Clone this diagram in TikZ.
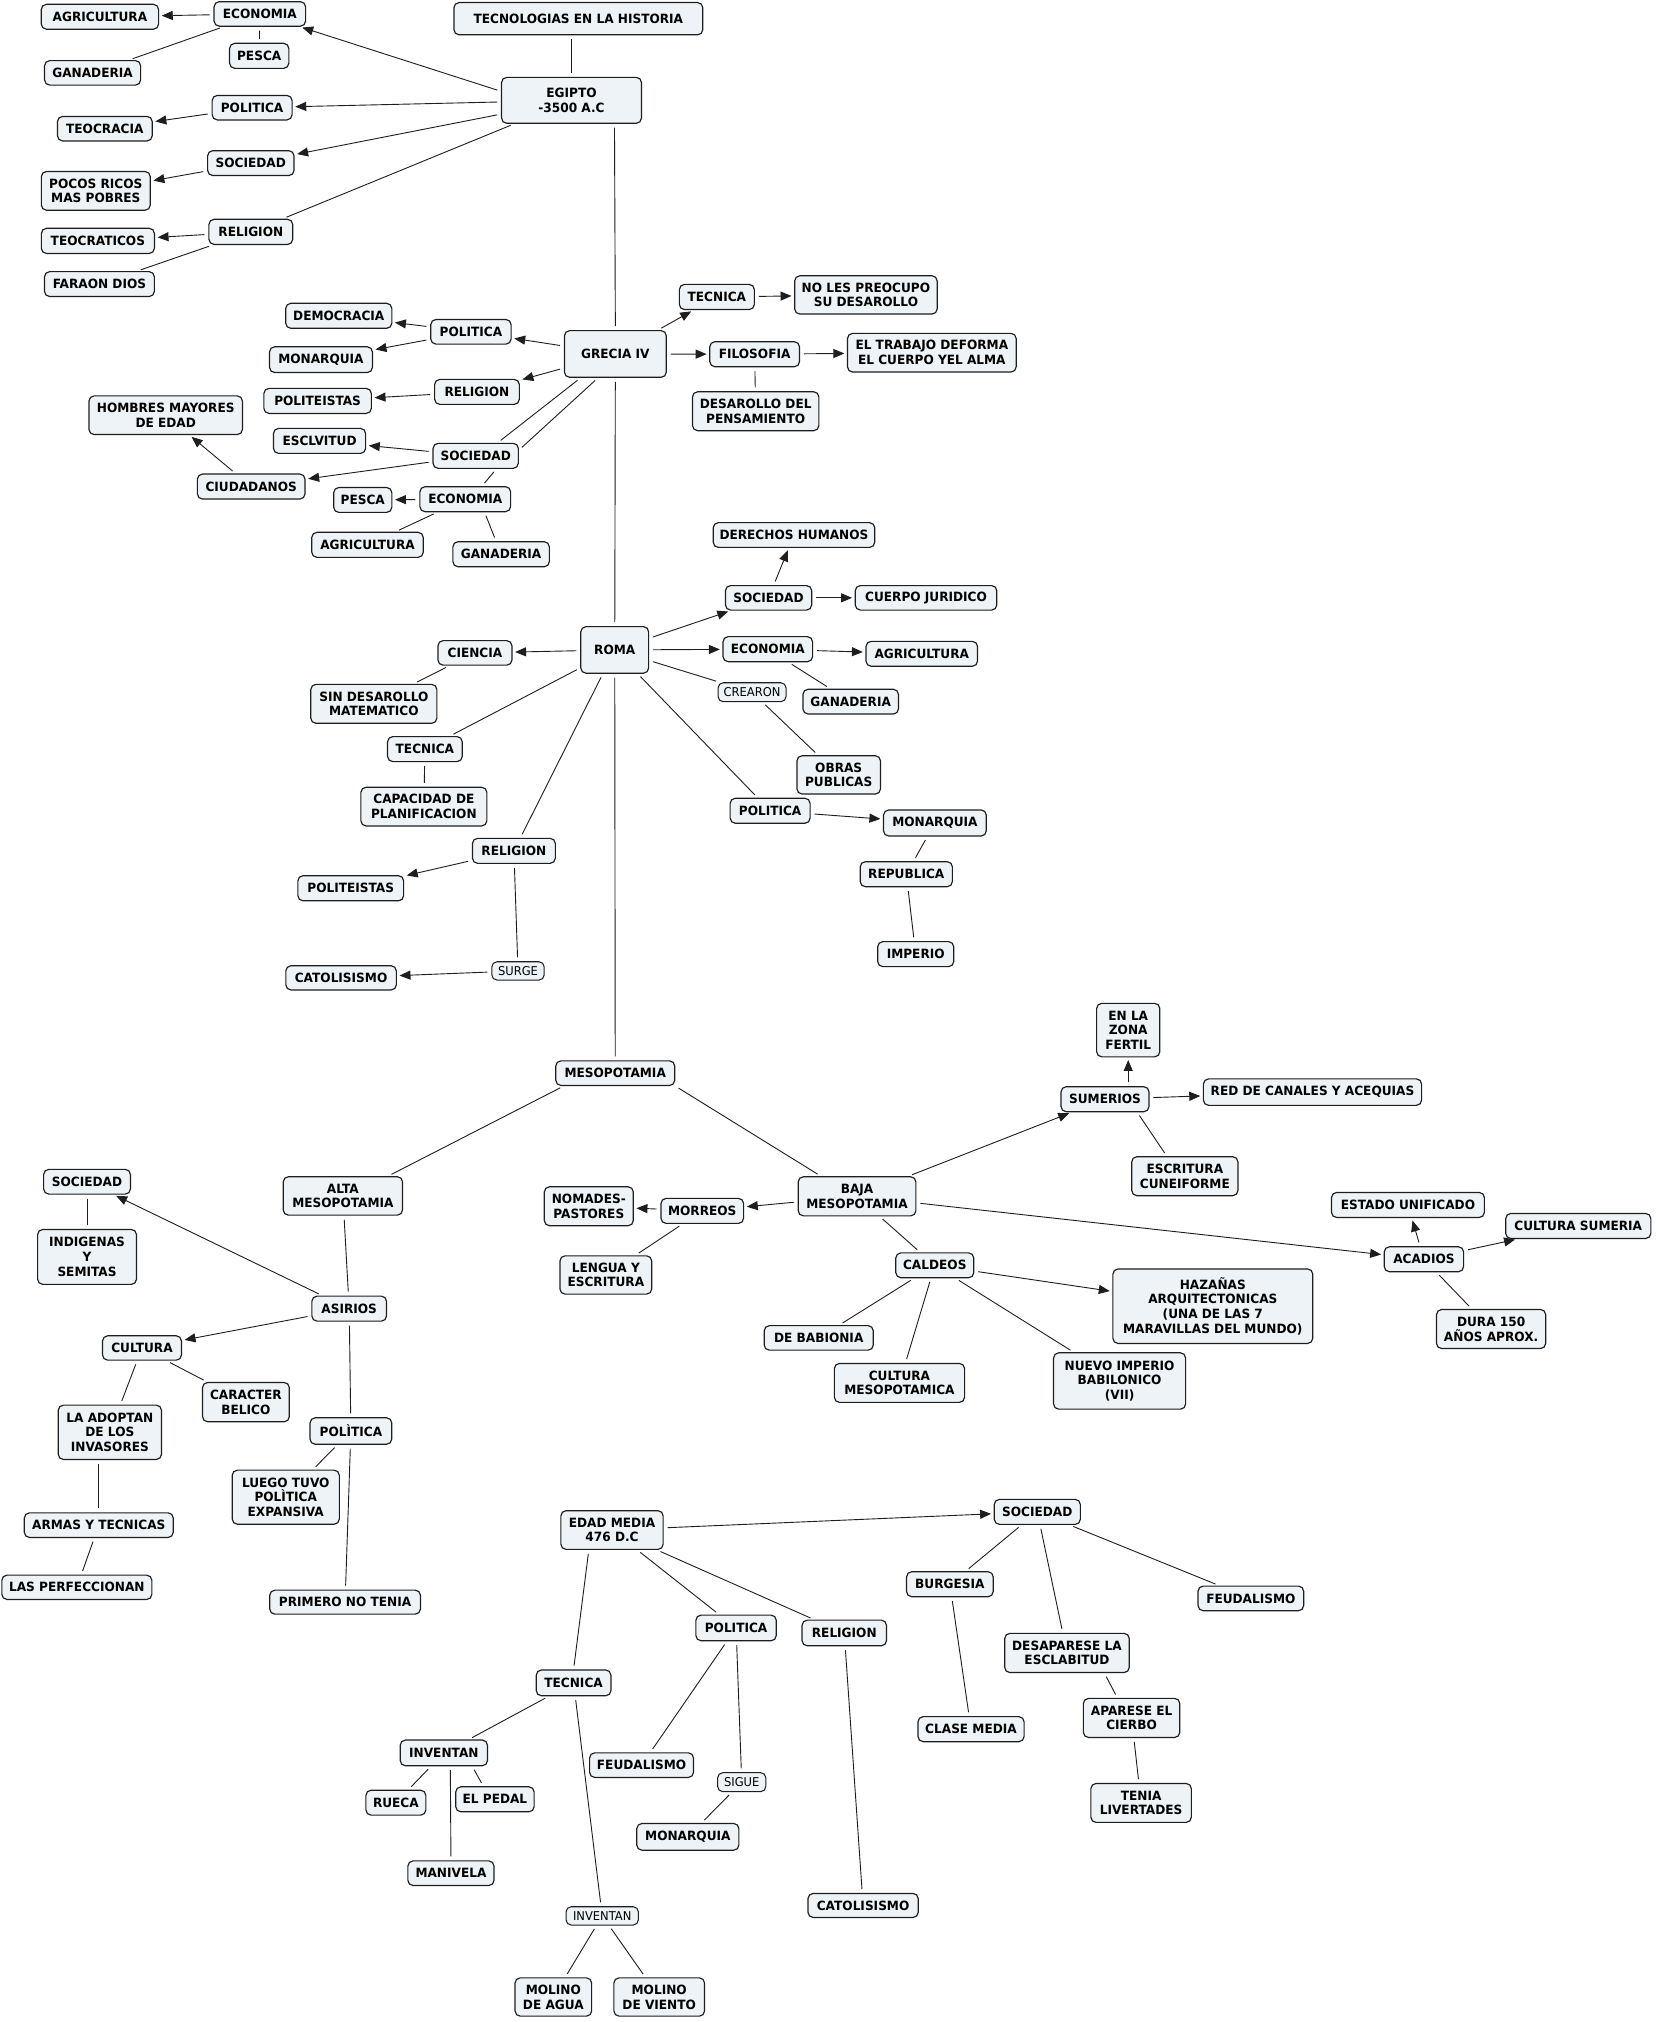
\documentclass[tikz,border=0pt]{standalone}
\usepackage{fontspec}
\setmainfont{DejaVu Sans}[FakeStretch=0.95]
\usetikzlibrary{arrows.meta}
\pgfdeclarelayer{bglayer}
\pgfdeclarelayer{edgelayer}
\pgfsetlayers{bglayer,edgelayer,main}
\definecolor{boxfill}{RGB}{237,243,246}
\definecolor{edgecol}{RGB}{30,30,30}
\tikzset{
  box/.style={draw=edgecol, line width=0.9pt, fill=boxfill, rounded corners=4pt, inner sep=0pt, align=center, font=\bfseries\fontsize{9.9}{11.4}\selectfont},
  lblbox/.style={box, line width=0.8pt, font=\fontsize{9.4}{11}\selectfont},
  con/.style={draw=edgecol, line width=0.7pt, shorten <=3pt, shorten >=3pt},
  arr/.style={con, -{Triangle[length=8.5pt,width=7pt]}, shorten >=2pt},
}
\newcommand\mynode[6]{\node[box, minimum width=#4pt, minimum height=#5pt] (#1) at (#2,#3) {#6};}
\newcommand\mylbl[6]{\node[lblbox, minimum width=#4pt, minimum height=#5pt] (#1) at (#2,#3) {#6};}
\begin{document}
\begin{tikzpicture}[x=1pt,y=-1pt]
\useasboundingbox (0,0) rectangle (1285,1568);
\begin{pgfonlayer}{bglayer}
\fill[white] (0,0) rectangle (1285,1568);
\end{pgfonlayer}
% ---------------- EGIPTO ----------------
\mynode{tec}{448.5}{14.5}{193}{25}{TECNOLOGIAS EN LA HISTORIA}
\mynode{egipto}{443.2}{77.8}{108.5}{35.6}{EGIPTO\\-3500 A.C}
\mynode{ecoE}{201.5}{10.8}{71}{19}{ECONOMIA}
\mynode{agriE}{77.5}{13}{91}{19.3}{AGRICULTURA}
\mynode{pescaE}{201}{43.3}{46}{19.4}{PESCA}
\mynode{ganE}{71.8}{56.5}{74.5}{19}{GANADERIA}
\mynode{polE}{195.5}{83.5}{62}{19}{POLITICA}
\mynode{teocracia}{81.3}{99.8}{73.5}{19}{TEOCRACIA}
\mynode{socE}{194.5}{126.5}{67}{19.3}{SOCIEDAD}
\mynode{pocos}{74.3}{148}{84.5}{30}{POCOS RICOS\\MAS POBRES}
\mynode{relE}{194.5}{179.8}{65}{19.5}{RELIGION}
\mynode{teocraticos}{75.9}{186.8}{87.7}{19.5}{TEOCRATICOS}
\mynode{faraon}{77.1}{220.3}{85.2}{19.3}{FARAON DIOS}
% ---------------- GRECIA ----------------
\mynode{grecia}{477.2}{274.5}{79}{36.2}{GRECIA IV}
\mynode{tecG}{555.9}{230.3}{58.2}{19.5}{TECNICA}
\mynode{noles}{671.5}{228.7}{110.5}{29.7}{NO LES PREOCUPO\\SU DESAROLLO}
\mynode{filo}{585.2}{274.7}{69.6}{19.4}{FILOSOFIA}
\mynode{trabajo}{722.6}{273.5}{130.8}{30}{EL TRABAJO DEFORMA\\EL CUERPO YEL ALMA}
\mynode{desP}{586}{318.9}{98}{30.2}{DESAROLLO DEL\\PENSAMIENTO}
\mynode{polG}{365.2}{257.3}{62.3}{19.1}{POLITICA}
\mynode{democracia}{262.7}{244.9}{82.3}{19.4}{DEMOCRACIA}
\mynode{monG}{248.9}{278.9}{79.8}{20}{MONARQUIA}
\mynode{relG}{369.9}{303.9}{65.7}{19.4}{RELIGION}
\mynode{politG}{246.3}{310.9}{83.4}{19.4}{POLITEISTAS}
\mynode{esclv}{247.8}{341.9}{71.5}{19.4}{ESCLVITUD}
\mynode{socG}{368.9}{353.5}{66.2}{19.4}{SOCIEDAD}
\mynode{ciud}{194.8}{377.3}{83.5}{19.4}{CIUDADANOS}
\mynode{hombres}{128.5}{322}{119}{30}{HOMBRES MAYORES\\DE EDAD}
\mynode{pescaG}{281.3}{387.7}{45.1}{19.3}{PESCA}
\mynode{ecoG}{360.8}{387.1}{70.4}{19.4}{ECONOMIA}
\mynode{agriG}{285}{422.5}{86.5}{19.4}{AGRICULTURA}
\mynode{ganG}{388.6}{429.8}{74.8}{19.5}{GANADERIA}
% ---------------- ROMA ----------------
\mynode{derechos}{615.7}{414.9}{125.3}{19.2}{DERECHOS HUMANOS}
\mynode{socR}{596}{463.6}{66.9}{19}{SOCIEDAD}
\mynode{cuerpo}{718.1}{463.6}{109.8}{19}{CUERPO JURIDICO}
\mynode{roma}{476.7}{504}{52.6}{36.1}{ROMA}
\mynode{ecoR}{595.4}{503.4}{69.5}{19.4}{ECONOMIA}
\mynode{agriR}{714.8}{507}{86.5}{19.3}{AGRICULTURA}
\mynode{ciencia}{368.3}{506.3}{57.4}{19}{CIENCIA}
\mylbl{crearon}{583.2}{536.8}{52.7}{14.7}{CREARON}
\mynode{ganR}{659.7}{544.1}{74.1}{19.2}{GANADERIA}
\mynode{sinDes}{289.9}{545.8}{97.8}{30.2}{SIN DESAROLLO\\MATEMATICO}
\mynode{tecR}{329.5}{580.9}{57.9}{19.4}{TECNICA}
\mynode{obras}{650.4}{600.9}{64.8}{29.7}{OBRAS\\PUBLICAS}
\mynode{capacidad}{328.7}{625.5}{97.7}{30}{CAPACIDAD DE\\PLANIFICACION}
\mynode{polR}{597.2}{628.7}{62}{19.4}{POLITICA}
\mynode{monR}{725}{638.2}{79.7}{20.2}{MONARQUIA}
\mynode{republica}{702.8}{677.9}{71.5}{19.4}{REPUBLICA}
\mynode{imperio}{710.1}{739.9}{59}{19.4}{IMPERIO}
\mynode{relR}{398.5}{659.8}{64.3}{19.4}{RELIGION}
\mynode{politR}{272}{688.8}{82}{19.5}{POLITEISTAS}
\mylbl{surge}{401.7}{752.9}{40.6}{14.2}{SURGE}
\mynode{catR}{264.5}{758.3}{85.7}{18.8}{CATOLISISMO}
% ---------------- MESOPOTAMIA ----------------
\mynode{meso}{477.1}{832.2}{92.2}{19.1}{MESOPOTAMIA}
\mynode{baja}{664.6}{927.7}{91.3}{30.3}{BAJA\\MESOPOTAMIA}
\mynode{morreos}{544.6}{939}{64.1}{19.4}{MORREOS}
\mynode{nomades}{456.6}{935.4}{69}{30.2}{NOMADES-\\PASTORES}
\mynode{lengua}{469.8}{988.7}{71.2}{29.7}{LENGUA Y\\ESCRITURA}
\mynode{caldeos}{724.9}{981.2}{60.5}{19.3}{CALDEOS}
\mynode{babionia}{634.9}{1037.5}{84.6}{19}{DE BABIONIA}
\mynode{culturaM}{697.5}{1072.4}{101}{30.2}{CULTURA\\MESOPOTAMICA}
\mynode{nuevo}{868.2}{1070.9}{102.4}{43.7}{NUEVO IMPERIO\\BABILONICO\\(VII)}
\mynode{hazanas}{940.5}{1012.9}{155}{57.8}{HAZAÑAS\\ARQUITECTONICAS\\(UNA DE LAS 7\\MARAVILLAS DEL MUNDO)}
\mynode{sumerios}{856.9}{852.4}{68.2}{19.4}{SUMERIOS}
\mynode{zona}{874.9}{798.8}{49}{41.5}{EN LA\\ZONA\\FERTIL}
\mynode{red}{1017.8}{846.9}{169.2}{20.5}{RED DE CANALES Y ACEQUIAS}
\mynode{escritura}{918.8}{912.1}{82.4}{30.2}{ESCRITURA\\CUNEIFORME}
\mynode{estado}{1091.8}{934.4}{118.6}{19.4}{ESTADO UNIFICADO}
\mynode{culturaS}{1223.9}{950.7}{112.6}{19.4}{CULTURA SUMERIA}
\mynode{acadios}{1104.2}{976.5}{61.5}{19.4}{ACADIOS}
\mynode{dura}{1156.3}{1030.6}{84.7}{30.3}{DURA 150\\AÑOS APROX.}
% ---------------- ALTA MESOPOTAMIA ----------------
\mynode{socA}{67.5}{916.4}{67.3}{19.2}{SOCIEDAD}
\mynode{indigenas}{67.5}{974.7}{76.7}{42.6}{INDIGENAS\\Y\\SEMITAS}
\mynode{alta}{265.9}{927.4}{92.5}{29.8}{ALTA\\MESOPOTAMIA}
\mynode{asirios}{270.8}{1014.8}{57.9}{19.4}{ASIRIOS}
\mynode{culturaA}{110.1}{1045.3}{61.2}{18.9}{CULTURA}
\mynode{caracter}{190.7}{1087.3}{67.3}{30.5}{CARACTER\\BELICO}
\mynode{adoptan}{85.2}{1110.7}{80.1}{42.1}{LA ADOPTAN\\DE LOS\\INVASORES}
\mynode{politA}{272.1}{1109.7}{63.4}{20.5}{POLÌTICA}
\mynode{luego}{221.6}{1161}{83.1}{41.9}{LUEGO TUVO\\POLÌTICA\\EXPANSIVA}
\mynode{armas}{76.6}{1182.7}{115.5}{19.1}{ARMAS Y TECNICAS}
\mynode{perfecc}{59.6}{1230.9}{116.3}{18.9}{LAS PERFECCIONAN}
\mynode{primero}{267.6}{1242.4}{116.9}{18.6}{PRIMERO NO TENIA}
% ---------------- EDAD MEDIA ----------------
\mynode{edad}{474.6}{1186.5}{79.3}{30}{EDAD MEDIA\\476 D.C}
\mynode{socM}{804.4}{1172.4}{66.8}{19.4}{SOCIEDAD}
\mynode{burgesia}{736.6}{1228.5}{67.2}{19.4}{BURGESIA}
\mynode{feudS}{970}{1239.5}{81.9}{19.1}{FEUDALISMO}
\mynode{desap}{827.4}{1281.8}{96.6}{30.4}{DESAPARESE LA\\ESCLABITUD}
\mynode{aparese}{877.5}{1332.2}{74.8}{30.3}{APARESE EL\\CIERBO}
\mynode{tenia}{884.9}{1398.1}{77.9}{30.2}{TENIA\\LIVERTADES}
\mynode{clase}{753}{1340.9}{82.3}{19.4}{CLASE MEDIA}
\mynode{polM}{570.8}{1262.4}{62.3}{19.9}{POLITICA}
\mynode{relM}{654.7}{1266.3}{65.5}{19.9}{RELIGION}
\mynode{tecM}{444.8}{1305}{57.9}{20}{TECNICA}
\mynode{invM}{344.2}{1359.3}{67.7}{19.9}{INVENTAN}
\mynode{feudP}{497.5}{1368.8}{80.6}{19.1}{FEUDALISMO}
\mylbl{sigue}{575.2}{1382}{37.4}{14.7}{SIGUE}
\mynode{monM}{533.4}{1424.4}{79.2}{20.7}{MONARQUIA}
\mynode{pedal}{383.8}{1395.3}{60.8}{19.4}{EL PEDAL}
\mynode{rueca}{307}{1397.9}{46.5}{19.3}{RUECA}
\mynode{manivela}{349.7}{1452.6}{66.8}{19.1}{MANIVELA}
\mylbl{inv2}{467}{1485.7}{56.1}{14.2}{INVENTAN}
\mynode{molinoA}{429.1}{1548.6}{59.4}{29.7}{MOLINO\\DE AGUA}
\mynode{molinoV}{511.2}{1548.6}{70.3}{29.7}{MOLINO\\DE VIENTO}
\mynode{catM}{669.3}{1477.6}{85.5}{18.6}{CATOLISISMO}
% ---------------- CONNECTORS ----------------
\begin{pgfonlayer}{edgelayer}
% Egipto
\draw[con] (tec.south -| egipto.north) -- (egipto.north);
\draw[arr] ([yshift=7pt]egipto.west) -- (ecoE);
\draw[arr] (egipto) -- (polE);
\draw[arr] (egipto) -- (socE);
\draw[con] (egipto) -- (relE);
\draw[arr] (ecoE) -- (agriE);
\draw[con] (ecoE) -- (pescaE);
\draw[con] (ecoE) -- (ganE);
\draw[arr] (polE) -- (teocracia);
\draw[arr] (socE) -- (pocos);
\draw[arr] (relE) -- (teocraticos);
\draw[con] (relE) -- (faraon);
\draw[con] ([xshift=33.3pt]egipto.south) -- (grecia.north);
% Grecia
\draw[arr] (grecia) -- (polG);
\draw[arr] (grecia) -- (relG);
\draw[con] ([xshift=-27pt]grecia.south) -- ([xshift=17pt]socG.north);
\draw[con] ([xshift=-13.5pt]grecia.south) -- ([yshift=4.5pt]socG.east);
\draw[arr] (polG) -- (democracia);
\draw[arr] (polG) -- (monG);
\draw[arr] (relG) -- (politG);
\draw[arr] (socG) -- (esclv);
\draw[arr] (socG) -- (ciud);
\draw[arr] (ciud) -- (hombres);
\draw[con] ([xshift=16pt]socG.south) -- ([xshift=13pt]ecoG.north);
\draw[arr] (ecoG) -- (pescaG);
\draw[con] (ecoG) -- (agriG);
\draw[con] ([xshift=15pt]ecoG.south) -- ([xshift=-4pt]ganG.north);
\draw[arr] (grecia) -- (tecG);
\draw[arr] (tecG) -- (noles);
\draw[arr] (grecia) -- (filo);
\draw[arr] (filo) -- (trabajo);
\draw[con] (filo) -- (desP);
\draw[con] (grecia) -- (roma);
% Roma
\draw[arr] (roma) -- (socR);
\draw[arr] (socR) -- (derechos);
\draw[arr] (socR) -- (cuerpo);
\draw[arr] (roma) -- (ecoR);
\draw[arr] (ecoR) -- (agriR);
\draw[con] (ecoR) -- (ganR);
\draw[con] (roma) -- (crearon);
\draw[con] (crearon) -- (obras);
\draw[arr] (roma) -- (ciencia);
\draw[con] (ciencia) -- (sinDes);
\draw[con] (roma) -- (tecR);
\draw[con] (tecR) -- (capacidad);
\draw[con] (roma) -- (polR);
\draw[arr] (polR) -- (monR);
\draw[con] (monR) -- (republica);
\draw[con] (republica) -- (imperio);
\draw[con] (roma) -- (relR);
\draw[arr] (relR) -- (politR);
\draw[con] (relR) -- (surge);
\draw[arr] (surge) -- (catR);
\draw[con] (roma) -- (meso);
% Mesopotamia
\draw[con] ([xshift=-40pt]meso.south) -- ([xshift=35pt]alta.north);
\draw[con] (meso.south east) -- ([xshift=-28pt]baja.north);
\draw[arr] (baja) -- (morreos);
\draw[arr] (morreos) -- (nomades);
\draw[con] (morreos) -- (lengua);
\draw[arr] (baja) -- (sumerios);
\draw[arr] (sumerios.north -| zona.south) -- (zona.south);
\draw[arr] (sumerios) -- (red);
\draw[con] ([xshift=25pt]sumerios.south) -- ([xshift=-14pt]escritura.north);
\draw[arr] (baja) -- (acadios);
\draw[arr] (acadios) -- (estado);
\draw[arr] (acadios) -- (culturaS);
\draw[con] (acadios) -- (dura);
\draw[con] (baja) -- (caldeos);
\draw[arr] (caldeos) -- (hazanas);
\draw[con] (caldeos) -- (babionia);
\draw[con] (caldeos) -- (culturaM);
\draw[con] (caldeos) -- (nuevo);
% Alta Mesopotamia
\draw[con] (alta) -- (asirios);
\draw[arr] (asirios) -- (socA);
\draw[con] (socA) -- (indigenas);
\draw[arr] (asirios) -- (culturaA);
\draw[con] (culturaA) -- (adoptan);
\draw[con] (culturaA) -- (caracter);
\draw[con] (armas.north |- adoptan.south) -- (armas.north);
\draw[con] (armas) -- (perfecc);
\draw[con] (asirios) -- (politA);
\draw[con] (politA) -- (luego);
\draw[con] (politA) -- (primero);
% Edad Media
\draw[arr] (edad) -- (socM);
\draw[con] ([xshift=-18pt]edad.south) -- (tecM.north);
\draw[con] (edad) -- (polM);
\draw[con] (edad) -- (relM);
\draw[con] (socM) -- (burgesia);
\draw[con] (socM) -- (desap);
\draw[con] (socM) -- (feudS);
\draw[con] (burgesia) -- (clase);
\draw[con] ([xshift=29pt]desap.south) -- ([xshift=-11pt]aparese.north);
\draw[con] (aparese) -- (tenia);
\draw[con] (polM) -- (feudP);
\draw[con] (polM) -- (sigue);
\draw[con] (sigue) -- (monM);
\draw[con] (relM) -- (catM);
\draw[con] (tecM) -- (invM);
\draw[con] (tecM) -- (inv2);
\draw[con] (invM) -- (rueca);
\draw[con] ([xshift=22pt]invM.south) -- ([xshift=-9pt]pedal.north);
\draw[con] ([xshift=5pt]invM.south) -- (manivela.north);
\draw[con] (inv2) -- (molinoA);
\draw[con] (inv2) -- (molinoV);
\end{pgfonlayer}
\end{tikzpicture}
\end{document}
